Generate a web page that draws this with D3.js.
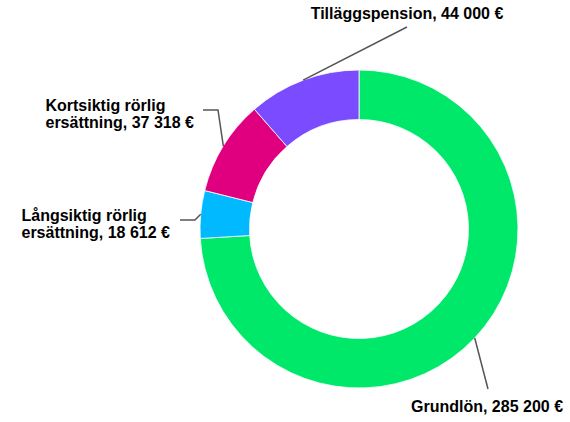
<!DOCTYPE html>
<html>
<head>
<meta charset="utf-8">
<script src="https://cdn.jsdelivr.net/npm/d3@7"></script>
<style>
  html, body { margin: 0; padding: 0; background: #fff; }
  svg { display: block; }
  text { font-family: "Liberation Sans", Arial, sans-serif; font-weight: bold; font-size: 16px; fill: #000; }
</style>
</head>
<body>
<svg id="chart" width="570" height="422"></svg>
<script>
// ---- data ----
const categories = ["Grundlön", "Långsiktig rörlig ersättning", "Kortsiktig rörlig ersättning", "Tilläggspension"];
const values = [285200, 18612, 37318, 44000];
const labelLines = [
  ["Grundlön, 285 200 €"],
  ["Långsiktig rörlig", "ersättning, 18 612 €"],
  ["Kortsiktig rörlig", "ersättning, 37 318 €"],
  ["Tilläggspension, 44 000 €"]
];
const colors = ["#00e86a", "#00b9ff", "#e0007f", "#7b4bff"];

// ---- layout ----
const W = 570, H = 422;
const cx = 359, cy = 229, rOuter = 159, rInner = 109.5;

// label layout (relative to chart center): leader elbow / end, text block placement
// align: "center" => centered at tx; "right" => left-aligned block whose right edge is at tx
const labelLayout = [
  { elbow: null, end: [129, 160], align: "center", tx: [128, 183] },
  { elbow: [-164, -9], end: [-179, -9], align: "right", tx: [-189, -8.3] },
  { elbow: [-141, -119], end: [-156, -119], align: "right", tx: [-165, -118.3] },
  { elbow: null, end: [48, -202], align: "center", tx: [48, -210] }
];

const svg = d3.select("#chart");
const g = svg.append("g").attr("transform", `translate(${cx},${cy})`);

const pie = d3.pie().sort(null).value(d => d)(values);
const arc = d3.arc().innerRadius(rInner).outerRadius(rOuter);

g.selectAll("path.slice").data(pie).enter().append("path")
  .attr("class", "slice")
  .attr("d", arc)
  .attr("fill", (d, i) => colors[i])
  .attr("stroke", "#ffffff")
  .attr("stroke-width", 0.8)
  .attr("stroke-linejoin", "round");

// leaders + labels
pie.forEach((d, i) => {
  const a = (d.startAngle + d.endAngle) / 2;
  const p0 = [rOuter * Math.sin(a), -rOuter * Math.cos(a)];
  const L = labelLayout[i];
  const pts = [p0];
  if (L.elbow) pts.push(L.elbow);
  pts.push(L.end);
  g.append("path")
    .attr("d", d3.line()(pts))
    .attr("fill", "none")
    .attr("stroke", "#555")
    .attr("stroke-width", 1.5);
  const t = g.append("text")
    .attr("text-anchor", L.align === "center" ? "middle" : "start")
    .attr("y", L.tx[1]);
  const spans = labelLines[i].map((line, j) =>
    t.append("tspan").attr("dy", j === 0 ? 0 : 17.6).text(line));
  let x = L.tx[0];
  if (L.align === "right") {
    const maxW = d3.max(spans, s => s.node().getComputedTextLength());
    x = L.tx[0] - maxW;
  }
  spans.forEach(s => s.attr("x", x));
});
</script>
</body>
</html>
